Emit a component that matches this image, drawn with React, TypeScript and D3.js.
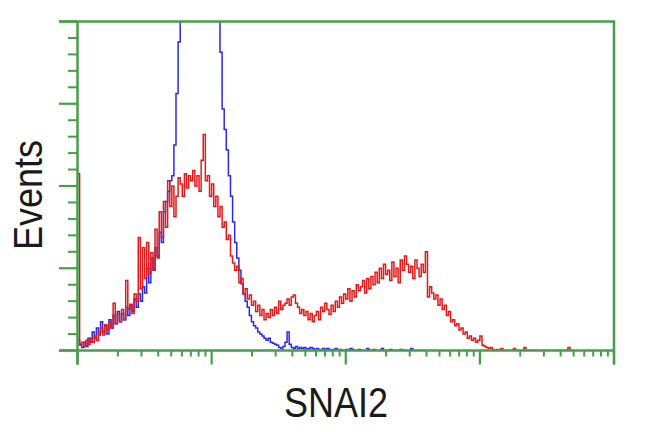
import React from "react";
import * as d3 from "d3";

// Histogram channel counts (256 channels over 4 log decades)
const redCounts: number[] = [
  172, 5, 8, 4, 10, 6, 12, 8, 14, 10,
  18, 22, 15, 25, 20, 28, 22, 46, 26, 35,
  28, 40, 30, 68, 40, 45, 36, 55, 48, 110,
  60, 100, 70, 105, 75, 95, 80, 118, 90, 135,
  110, 145, 120, 165, 140, 160, 130, 150, 168, 162,
  150, 172, 158, 170, 165, 175, 160, 170, 155, 185,
  210, 165, 170, 150, 162, 140, 150, 130, 140, 120,
  125, 108, 112, 92, 85, 78, 82, 66, 70, 55,
  60, 50, 54, 44, 48, 38, 44, 34, 40, 30,
  36, 32, 40, 34, 42, 36, 48, 40, 44, 46,
  50, 44, 52, 54, 46, 42, 36, 40, 34, 38,
  30, 36, 28, 34, 38, 30, 42, 38, 46, 40,
  35, 44, 38, 48, 42, 52, 46, 55, 50, 60,
  48, 58, 52, 64, 58, 62, 68, 56, 70, 60,
  72, 64, 76, 66, 80, 70, 84, 74, 78, 68,
  86, 72, 80, 66, 88, 78, 92, 84, 76, 82,
  70, 88, 80, 72, 84, 76, 96, 52, 62, 56,
  50, 54, 44, 50, 40, 44, 34, 38, 28, 30,
  24, 26, 20, 22, 16, 18, 12, 14, 10, 12,
  8, 10, 14, 5, 4, 3, 2, 3, 1, 0,
  1, 0, 2, 0, 0, 0, 0, 0, 2, 0,
  0, 0, 0, 3, 0, 0, 0, 0, 0, 0,
  0, 0, 0, 0, 0, 0, 0, 0, 0, 0,
  0, 0, 0, 0, 3, 0,
];

const blueCounts: number[] = [
  10, 6, 3, 8, 4, 12, 8, 18, 12, 22,
  15, 28, 18, 24, 16, 30, 22, 34, 26, 38,
  28, 36, 30, 42, 34, 44, 38, 50, 42, 55,
  48, 62, 56, 80, 66, 90, 78, 100, 92, 115,
  105, 135, 145, 155, 165, 170, 200, 250, 300, 330,
  360, 380, 400, 410, 420, 430, 425, 430, 420, 415,
  410, 400, 395, 385, 370, 355, 340, 330, 290, 235,
  215, 195, 170, 150, 125, 105, 90, 78, 65, 55,
  48, 42, 34, 28, 24, 22, 18, 16, 14, 12,
  10, 12, 8, 7, 6, 5, 3, 2, 4, 8,
  18, 6, 3, 2, 4, 2, 3, 2, 3, 1,
  2, 3, 2, 1, 2, 1, 0, 2, 1, 2,
  1, 0, 1, 2, 0, 1, 0, 0, 1, 0,
  2, 1, 0, 0, 1, 0, 0, 0, 2, 0,
  0, 1, 0, 0, 0, 2, 0, 0, 0, 1,
  0, 0, 0, 0, 1, 0, 0, 0, 0, 2,
  0, 0, 0, 0, 0, 0,
];

const channelCount = 256;
const xDecades: number[] = [1, 10, 100, 1000, 10000];
const yMajorTicks: number[] = [0, 80, 160, 240, 320];
const yMax = 320;
const xLabel = "SNAI2";
const yLabel = "Events";

const W = 650;
const H = 432;
const left = 77.5;
const right = 614;
const top = 21.5;
const bottom = 350.5;
const green = "#45a045";

export default function App() {
  const xLog = d3.scaleLog().domain([1, 10000]).range([left, right]);
  const xCh = d3.scaleLinear().domain([0, channelCount]).range([left, right]);
  const y = d3.scaleLinear().domain([0, yMax]).range([bottom, top]);

  const stepLine = (vals: number[]) => {
    const pts: [number, number][] = vals.map((v, i) => [i, v]);
    pts.push([vals.length, vals[vals.length - 1]]);
    return (
      d3
        .line<[number, number]>()
        .x((d) => xCh(d[0]))
        .y((d) => y(d[1]))
        .curve(d3.curveStepAfter)(pts) || ""
    );
  };

  const minorX: number[] = [];
  for (let k = 0; k < xDecades.length - 1; k++) {
    for (let m = 2; m <= 9; m++) minorX.push(xDecades[k] * m);
  }
  const yMinor = d3.range(0, yMax + 1, 16).filter((v) => !yMajorTicks.includes(v));

  return (
    <svg
      width={W}
      height={H}
      style={{ position: "absolute", left: 0, top: 0, background: "#fff" }}
      fontFamily="'Liberation Sans', Arial, sans-serif"
    >
      <defs>
        <clipPath id="plot">
          <rect x={left} y={top} width={right - left} height={bottom - top} />
        </clipPath>
      </defs>
      <g clipPath="url(#plot)" fill="none" strokeWidth={1.5}>
        <path d={stepLine(blueCounts)} stroke="#2a2ae0" />
        <path d={stepLine(redCounts)} stroke="#e41a1a" />
      </g>
      <g stroke={green} fill="none">
        <line x1={59} x2={right} y1={top} y2={top} strokeWidth={2.5} />
        <line x1={59} x2={right} y1={bottom} y2={bottom} strokeWidth={2.5} />
        <line x1={left} x2={left} y1={top} y2={bottom + 14} strokeWidth={2.5} />
        <line x1={right} x2={right} y1={top - 1} y2={bottom + 14} strokeWidth={2.5} />
        {yMajorTicks.map((v) => (
          <line key={"ym" + v} x1={59} x2={left} y1={y(v)} y2={y(v)} strokeWidth={2.2} />
        ))}
        {yMinor.map((v) => (
          <line key={"yn" + v} x1={68} x2={left} y1={y(v)} y2={y(v)} strokeWidth={2} />
        ))}
        {xDecades.map((v) => (
          <line key={"xm" + v} x1={xLog(v)} x2={xLog(v)} y1={bottom} y2={bottom + 14} strokeWidth={2.2} />
        ))}
        {minorX.map((v) => (
          <line key={"xn" + v} x1={xLog(v)} x2={xLog(v)} y1={bottom} y2={bottom + 6} strokeWidth={2} />
        ))}
      </g>
      <text
        transform={`translate(42,195) rotate(-90) scale(1,1.12)`}
        textAnchor="middle"
        fontSize={36}
        fill="#1a1a1a"
      >
        {yLabel}
      </text>
      <text
        transform={`translate(336,417) scale(1,1.2)`}
        textAnchor="middle"
        fontSize={36}
        fill="#1a1a1a"
      >
        {xLabel}
      </text>
    </svg>
  );
}
